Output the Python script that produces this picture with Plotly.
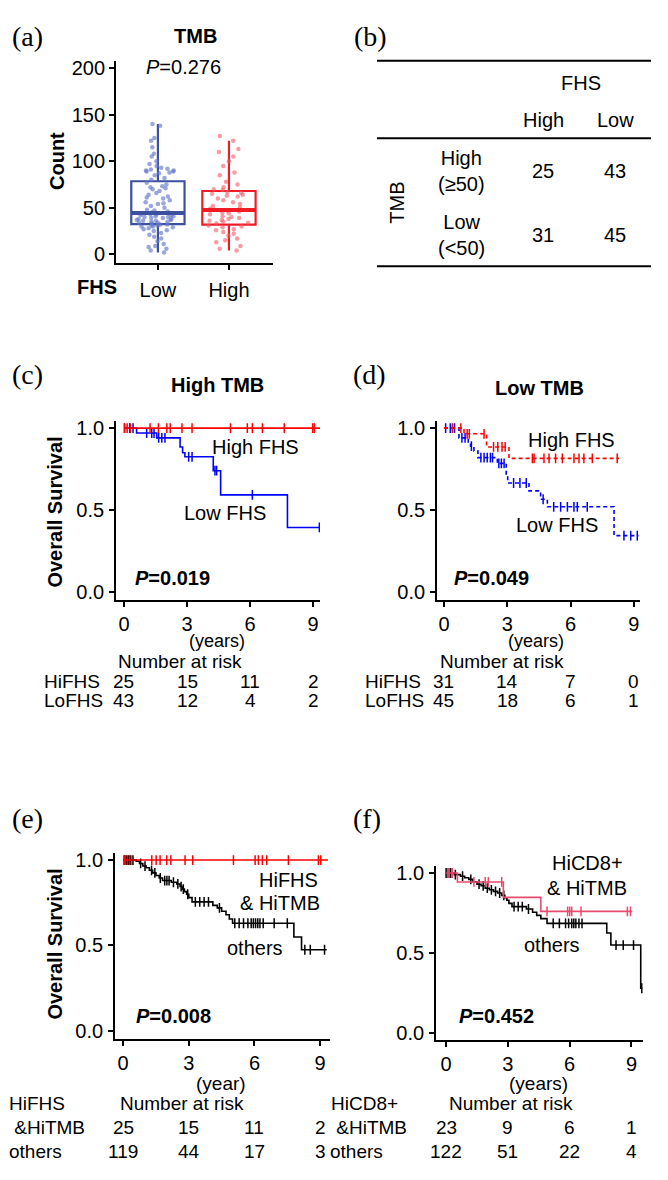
import plotly.graph_objects as go
import numpy as np

# page body has an 8px default margin; figure drawn at (8,8)
OFF = 8
W, H = 660, 1172
SANS = "Liberation Sans"
SERIF = "Liberation Serif"

# ---------------- data ----------------
box_categories = ["Low", "High"]
tmb_low_fhs = [2, 4, 6, 8, 9, 11, 14, 17, 19, 21, 23, 25, 26, 27, 28, 29, 30, 30, 31, 31, 32, 32,
               33, 34, 34, 35, 35, 36, 36, 37, 37, 38, 38, 39, 39, 40, 40, 41, 41, 42, 42, 43, 43, 44,
               45, 46, 47, 48, 50, 52, 54, 55, 56, 58, 60, 61, 62, 64, 66, 68, 70, 71, 72, 73, 75, 77,
               80, 82, 85, 87, 88, 89, 89, 90, 90, 91, 92, 93, 95, 97, 100, 105, 108, 115, 122, 125, 138, 140]
tmb_high_fhs = [4, 6, 9, 13, 15, 17, 20, 22, 24, 26, 27, 29, 30, 31,
                33, 34, 35, 36, 37, 38, 39, 40, 41, 43, 44, 45, 46, 47,
                48, 49, 50, 52, 54, 56, 58, 60, 62, 63, 64, 65, 66, 67,
                69, 70, 72, 75, 78, 85, 88, 95, 100, 105, 110, 113, 122, 127]
box_p_text = "<i>P</i>=0.276"

table_cols = ["High", "Low"]
table_rows = ["High<br>(≥50)", "Low<br>(<50)"]
table_counts = [[25, 43], [31, 45]]

risk_years = [0, 3, 6, 9]

# (c) High TMB
c_hi_times, c_hi_surv = [], []
c_hi_cens = [0.02, 0.15, 0.3, 1.24, 1.64, 2.04, 2.2, 2.76, 3.24, 5.07, 5.87, 6.11, 6.59, 7.63, 8.98, 9.06]
c_hi_end = 9.33
c_lo_times = [0.60, 1.56, 2.67, 2.79, 2.90, 4.25, 4.60, 7.78]
c_lo_surv = [0.97, 0.94, 0.885, 0.85, 0.825, 0.74, 0.593, 0.394]
c_lo_cens = [0.03, 0.27, 0.43, 1.08, 1.32, 1.43, 1.65, 1.8, 1.95, 3.08, 3.24, 4.33, 4.41, 6.11, 9.30]
c_lo_end = 9.30
c_risk_hi = [25, 15, 11, 2]
c_risk_lo = [43, 12, 4, 2]

# (d) Low TMB
d_hi_times = [0.95, 2.02, 3.08]
d_hi_surv = [0.965, 0.885, 0.815]
d_hi_cens = [0.4, 0.8, 1.1, 1.2, 1.9, 2.35, 2.55, 2.75, 2.9, 4.19, 4.27, 4.74, 4.98, 5.29, 5.61,
             6.16, 6.4, 6.63, 7.03, 8.21]
d_hi_end = 8.3
d_lo_times = [0.71, 1.15, 1.26, 1.42, 1.61, 2.53, 2.95, 3.02, 4.03, 4.58, 4.9, 8.06]
d_lo_surv = [0.94, 0.915, 0.89, 0.86, 0.82, 0.785, 0.72, 0.665, 0.617, 0.566, 0.52, 0.344]
d_lo_cens = [0.08, 0.3, 0.5, 0.85, 1.0, 1.3, 1.75, 1.9, 2.05, 2.2, 2.3, 2.6, 2.72, 2.85, 3.3, 3.6,
             3.9, 4.7, 5.2, 5.53, 5.85, 6.16, 6.32, 6.79, 8.53, 8.85, 9.16]
d_lo_end = 9.22
d_risk_hi = [31, 14, 7, 0]
d_risk_lo = [45, 18, 6, 1]

# (e) HiFHS & HiTMB vs others
e_hi_times, e_hi_surv = [], []
e_hi_cens = [0.05, 0.1, 0.2, 0.3, 1.31, 1.51, 1.69, 1.99, 2.18, 2.83, 3.18, 5.04, 6.03, 6.18, 6.36,
             6.56, 7.55, 8.92, 9.03]
e_hi_end = 9.36
e_ot_times = [0.6, 0.75, 0.9, 1.05, 1.2, 1.35, 1.5, 1.65, 1.8, 2.2, 2.45, 2.6, 2.7, 2.8, 2.9, 3.0,
              3.15, 4.1, 4.3, 4.5, 4.7, 4.85, 5.0, 7.8, 8.15]
e_ot_surv = [0.993, 0.98, 0.965, 0.955, 0.94, 0.925, 0.91, 0.895, 0.88, 0.87, 0.86, 0.845, 0.83,
             0.815, 0.8, 0.78, 0.755, 0.735, 0.72, 0.70, 0.68, 0.655, 0.63, 0.55, 0.475]
e_ot_cens = [0.05, 0.15, 0.25, 0.35, 0.45, 0.8, 1.0, 1.3, 1.45, 1.7, 1.9, 2.0, 2.1, 2.3, 2.5, 2.65,
             2.75, 2.95, 3.3, 3.5, 3.7, 3.9, 4.4, 5.1, 5.3, 5.5, 5.7, 5.85, 5.95, 6.05, 6.15, 6.25,
             6.4, 6.9, 7.5, 8.3, 8.55, 9.2]
e_ot_end = 9.3
e_risk_hi = [25, 15, 11, 2]
e_risk_ot = [119, 44, 17, 3]

# (f) HiCD8+ & HiTMB vs others
f_hi_times = [0.55, 2.78, 4.6]
f_hi_surv = [0.944, 0.848, 0.76]
f_hi_cens = [0.1, 0.3, 1.35, 1.9, 2.05, 2.7, 4.9, 5.9, 6.0, 6.1, 6.55, 8.8, 8.95]
f_hi_end = 9.04
f_ot_times = [0.4, 0.7, 0.9, 1.1, 1.3, 1.5, 1.7, 1.9, 2.1, 2.3, 2.5, 2.7, 2.85, 2.95, 3.05, 3.2,
              3.9, 4.2, 4.4, 4.6, 4.9, 7.8, 8.0, 9.45]
f_ot_surv = [0.99, 0.98, 0.97, 0.96, 0.945, 0.93, 0.92, 0.905, 0.895, 0.885, 0.875, 0.86, 0.845,
             0.83, 0.81, 0.79, 0.775, 0.755, 0.735, 0.715, 0.685, 0.625, 0.55, 0.28]
f_ot_cens = [0.0, 0.1, 0.2, 0.3, 0.45, 0.8, 1.2, 1.6, 1.8, 2.0, 2.2, 2.4, 2.6, 2.8, 3.3, 3.5, 3.7,
             4.0, 5.2, 5.5, 5.8, 5.95, 6.1, 6.2, 6.3, 6.45, 6.6, 8.25, 8.6, 9.1, 9.5]
f_ot_end = 9.53
f_risk_hi = [23, 9, 6, 1]
f_risk_ot = [122, 51, 22, 4]

# ---------------- colours ----------------
NAVY = "#3d4f9f"
NAVY_PT = "rgba(100,120,200,0.65)"
BOXRED = "#ee1c25"
BOXRED_PT = "rgba(240,90,100,0.6)"
RED = "#ff0000"
BLUE = "#0000ff"
BLACK = "#000000"
PINK = "#e84a6e"


def px2x(px):
    return (px - OFF) / W


def py2y(py):
    return 1 - (py - OFF) / H


def xdom(l, r):
    return [px2x(l), px2x(r)]


def ydom(top, bottom):
    return [py2y(bottom), py2y(top)]


def step_at(t, times, surv):
    s = 1.0
    for tt, ss in zip(times, surv):
        if t >= tt:
            s = ss
    return s


fig = go.Figure()

# ---------------- panel (a) box plot ----------------
for i, (vals, lc, pc) in enumerate([(tmb_low_fhs, NAVY, NAVY_PT), (tmb_high_fhs, BOXRED, BOXRED_PT)]):
    fig.add_trace(go.Box(
        x=[i] * len(vals), y=vals, xaxis="x", yaxis="y",
        boxpoints="all", jitter=0.85, pointpos=0, width=0.75, whiskerwidth=0,
        marker=dict(size=4.5, color=pc),
        line=dict(color=lc, width=2.2), fillcolor="rgba(255,255,255,0)",
        hoverinfo="skip"))
    med = float(np.median(vals))
    fig.add_trace(go.Scatter(x=[i - 0.375, i + 0.375], y=[med, med], mode="lines",
                             line=dict(color=lc, width=4), xaxis="x", yaxis="y", hoverinfo="skip"))


# ---------------- KM curves ----------------
def add_km(times, surv, end, cens, color, ax, dash=None):
    xs = [0] + list(times) + [end]
    ys = [1.0] + list(surv) + [surv[-1] if surv else 1.0]
    fig.add_trace(go.Scatter(x=xs, y=ys, mode="lines", line_shape="hv",
                             line=dict(color=color, width=1.6, dash=dash),
                             xaxis="x" + ax, yaxis="y" + ax, hoverinfo="skip"))
    cy = [step_at(t, times, surv) for t in cens]
    fig.add_trace(go.Scatter(x=cens, y=cy, mode="markers",
                             marker=dict(symbol="line-ns", size=7, line=dict(color=color, width=1.5)),
                             xaxis="x" + ax, yaxis="y" + ax, hoverinfo="skip"))


add_km(c_lo_times, c_lo_surv, c_lo_end, c_lo_cens, BLUE, "2")
add_km(c_hi_times, c_hi_surv, c_hi_end, c_hi_cens, RED, "2")
add_km(d_lo_times, d_lo_surv, d_lo_end, d_lo_cens, BLUE, "3", dash="4px,3px")
add_km(d_hi_times, d_hi_surv, d_hi_end, d_hi_cens, RED, "3", dash="4px,3px")
add_km(e_ot_times, e_ot_surv, e_ot_end, e_ot_cens, BLACK, "4")
add_km(e_hi_times, e_hi_surv, e_hi_end, e_hi_cens, RED, "4")
add_km(f_ot_times, f_ot_surv, f_ot_end, f_ot_cens, BLACK, "5")
add_km(f_hi_times, f_hi_surv, f_hi_end, f_hi_cens, PINK, "5")

# ---------------- axes ----------------
axis_common = dict(showline=True, linecolor="black", linewidth=1.8, ticks="outside", ticklen=5,
                   tickwidth=1.8, tickcolor="black", showgrid=False, zeroline=False,
                   tickfont=dict(family=SANS, size=20, color="black"), fixedrange=True)

km_x = dict(tickvals=risk_years, ticktext=[str(v) for v in risk_years], ticklabelstandoff=0)
km_y = dict(tickvals=[0, 0.5, 1.0], ticktext=["0.0", "0.5", "1.0"], ticklabelstandoff=1)

fig.update_layout(
    xaxis=dict(axis_common, domain=xdom(116, 273), range=[-0.59, 1.62], anchor="y",
               tickvals=[0, 1], ticktext=box_categories, ticklabelstandoff=3),
    yaxis=dict(axis_common, domain=ydom(57, 261), range=[-9.6, 208], anchor="x",
               tickvals=[0, 50, 100, 150, 200]),
    xaxis2=dict(axis_common, domain=xdom(116, 320), range=[-0.38, 9.33], anchor="y2", **km_x),
    yaxis2=dict(axis_common, domain=ydom(420, 600), range=[-0.048, 1.042], anchor="x2", **km_y),
    xaxis3=dict(axis_common, domain=xdom(437, 640), range=[-0.33, 9.29], anchor="y3", **km_x),
    yaxis3=dict(axis_common, domain=ydom(420, 600), range=[-0.048, 1.042], anchor="x3", **km_y),
    xaxis4=dict(axis_common, domain=xdom(115, 330), range=[-0.37, 9.45], anchor="y4", **km_x),
    yaxis4=dict(axis_common, domain=ydom(855, 1042), range=[-0.047, 1.04], anchor="x4", **km_y),
    xaxis5=dict(axis_common, domain=xdom(436, 643), range=[-0.49, 9.56], anchor="y5", **km_x),
    yaxis5=dict(axis_common, domain=ydom(868, 1043), range=[-0.043, 1.043], anchor="x5", **km_y),
)

# ---------------- annotations ----------------
anns = []


def ann(text, px, py, size=20, bold=False, family=SANS, xanchor="center", angle=0, xref="paper", x=None):
    if bold:
        text = "<b>" + text + "</b>"
    anns.append(dict(text=text, x=(px2x(px) if x is None else x), y=py2y(py),
                     xref=xref, yref="paper", xanchor=xanchor, yanchor="middle",
                     showarrow=False, textangle=angle,
                     font=dict(family=family, size=size, color="black")))


# panel labels
for lab, px, py in [("(a)", 27, 33), ("(b)", 370, 33), ("(c)", 27, 373), ("(d)", 369, 373),
                    ("(e)", 27, 820), ("(f)", 367, 820)]:
    ann(lab, px, py, size=28, family=SERIF)

# (a)
ann("TMB", 195, 32, bold=True)
ann(box_p_text, 183, 63)
ann("Count", 57, 158, bold=True, angle=-90)
ann("FHS", 97, 285, bold=True)

# (b) table
ann("FHS", 581, 79)
for j, col in enumerate(table_cols):
    ann(col, [543, 615][j], 117)
for i, row in enumerate(table_rows):
    ry = [168, 233][i]
    ann(row, 461, ry)
    for j in range(2):
        ann(str(table_counts[i][j]), [543, 615][j], ry)
ann("TMB", 397, 200, angle=-90)

# (c)
ann("High TMB", 217, 384, bold=True)
ann("High FHS", 255, 446)
ann("Low FHS", 225, 512)
ann("<i>P</i>=0.019", 172, 578, bold=True)
ann("Overall Survival", 55, 512, bold=True, angle=-90)
# (d)
ann("Low TMB", 539, 387, bold=True)
ann("High FHS", 571, 439)
ann("Low FHS", 557, 525)
ann("<i>P</i>=0.049", 492, 578, bold=True)
# (e)
ann("HiFHS", 320, 882, xanchor="right")
ann("& HiTMB", 322, 905, xanchor="right")
ann("others", 255, 950)
ann("<i>P</i>=0.008", 173, 1019, bold=True)
ann("Overall Survival", 55, 947, bold=True, angle=-90)
# (f)
ann("HiCD8+", 587, 865)
ann("& HiTMB", 587, 890)
ann("others", 552, 947)
ann("<i>P</i>=0.452", 496, 1019, bold=True)

RS = 19  # risk-table font size
# risk tables (c), (d)
ann("(years)", 217, 641, size=18)
ann("Number at risk", 180, 662, size=RS)
ann("HiFHS", 42, 682, xanchor="left", size=RS)
ann("LoFHS", 42, 701, xanchor="left", size=RS)
ann("(years)", 536, 641, size=18)
ann("Number at risk", 502, 662, size=RS)
ann("HiFHS", 363, 682, xanchor="left", size=RS)
ann("LoFHS", 363, 701, xanchor="left", size=RS)
for k, yr in enumerate(risk_years):
    ann(str(c_risk_hi[k]), 0, 682, xref="x2", x=yr, size=RS)
    ann(str(c_risk_lo[k]), 0, 701, xref="x2", x=yr, size=RS)
    ann(str(d_risk_hi[k]), 0, 682, xref="x3", x=yr, size=RS)
    ann(str(d_risk_lo[k]), 0, 701, xref="x3", x=yr, size=RS)

# risk tables (e), (f)
ann("(year)", 221, 1087, size=RS)
ann("HiFHS", 7, 1107, xanchor="left", size=RS)
ann("Number at risk", 182, 1107, size=RS)
ann(" &HiTMB", 7, 1131, xanchor="left", size=RS)
ann("others", 7, 1155, xanchor="left", size=RS)
ann("(years)", 538, 1087, size=RS)
ann("HiCD8+", 329, 1107, xanchor="left", size=RS)
ann("Number at risk", 511, 1107, size=RS)
ann(" &HiTMB", 329, 1131, xanchor="left", size=RS)
ann("others", 328, 1155, xanchor="left", size=RS)
for k, yr in enumerate(risk_years):
    ann(str(e_risk_hi[k]), 0, 1131, xref="x4", x=yr, size=RS)
    ann(str(e_risk_ot[k]), 0, 1155, xref="x4", x=yr, size=RS)
    ann(str(f_risk_hi[k]), 0, 1131, xref="x5", x=yr, size=RS)
    ann(str(f_risk_ot[k]), 0, 1155, xref="x5", x=yr, size=RS)

# table lines for (b)
shapes = []
for ly in [57, 135, 264]:
    shapes.append(dict(type="line", xref="paper", yref="paper", x0=px2x(377), x1=px2x(651),
                       y0=py2y(ly), y1=py2y(ly), line=dict(color="black", width=2)))

fig.update_layout(
    width=W, height=H, margin=dict(l=0, r=0, t=0, b=0),
    paper_bgcolor="white", plot_bgcolor="white", showlegend=False,
    annotations=anns, shapes=shapes,
    font=dict(family=SANS, size=20, color="black"),
)

fig.write_html("out.html")
